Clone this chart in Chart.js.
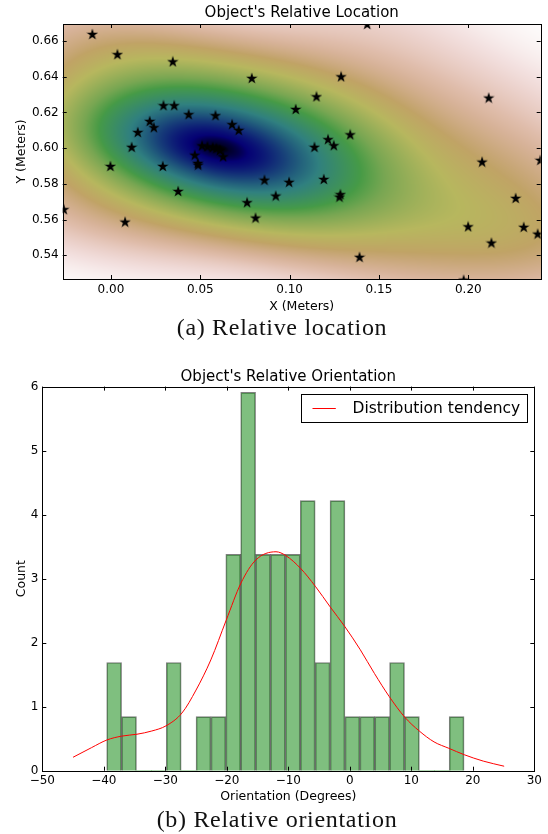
<!DOCTYPE html>
<html>
<head>
<meta charset="utf-8">
<script src="https://cdn.jsdelivr.net/npm/chart.js"></script>
<style>
  html, body { margin: 0; padding: 0; background: #fff; }
  body { width: 548px; height: 834px; position: relative; overflow: hidden; }
  .box { position: absolute; left: 0; width: 548px; }
  .caption { position: absolute; left: 0; text-align: center; font-family: "Liberation Serif", serif;
             font-size: 24px; letter-spacing: 0.7px; color: #111; }
</style>
</head>
<body>
<div class="box" style="top:0;height:315px"><canvas id="loc" width="548" height="315"></canvas></div>
<div class="caption" style="top:314px;width:564px">(a) Relative location</div>
<div class="box" style="top:360px;height:450px"><canvas id="ori" width="548" height="450"></canvas></div>
<div class="caption" style="top:806px;width:554px">(b) Relative orientation</div>

<script>
// relative location samples (meters)
const locX = [-0.0104, 0.0036, 0.0346, 0.0788, 0.0294, 0.0354, 0.0435, 0.0585, 0.0217, 0.0240,
    0.0150, 0.0678, 0.0715, 0.0116, 0.0510, 0.0540, 0.0570, 0.0590, 0.0610, 0.0469,
    0.0628, 0.0486, 0.0488, -0.0003, 0.0290, 0.0376, 0.0859, 0.0997, 0.0922, 0.0762,
    0.0809, 0.0079, -0.0264, 0.1034, 0.1434, 0.1288, 0.1150, 0.2114, 0.1339, 0.1215,
    0.1247, 0.1139, 0.2077, 0.2403, 0.1191, 0.1284, 0.1279, 0.2265, 0.1999, 0.2310,
    0.2388, 0.2129, 0.1391, 0.1974];
const locY = [0.6639, 0.6526, 0.6486, 0.6393, 0.6240, 0.6240, 0.6190, 0.6184, 0.6152, 0.6117,
    0.6090, 0.6134, 0.6102, 0.6007, 0.6015, 0.6010, 0.6005, 0.6000, 0.5990, 0.5963,
    0.5954, 0.5917, 0.5907, 0.5900, 0.5900, 0.5760, 0.5823, 0.5811, 0.5734, 0.5697,
    0.5611, 0.5588, 0.5658, 0.6219, 0.6695, 0.6402, 0.6290, 0.6283, 0.6077, 0.6050,
    0.6016, 0.6007, 0.5924, 0.5934, 0.5827, 0.5742, 0.5728, 0.5721, 0.5562, 0.5559,
    0.5521, 0.5471, 0.5391, 0.5263];
const locXTicks = [0.00, 0.05, 0.10, 0.15, 0.20];
const locYTicks = [0.54, 0.56, 0.58, 0.60, 0.62, 0.64, 0.66];

// orientation histogram (degrees)
const binCenters = [-38.32, -35.90, -33.48, -31.06, -28.63, -26.21, -23.79, -21.37, -18.95, -16.53,
    -14.11, -11.69, -9.26, -6.84, -4.42, -2.00, 0.42, 2.84, 5.26, 7.68,
    10.10, 12.53, 14.95, 17.37];
const binHeights = [1.69, 0.845, 0, 0, 1.69, 0, 0.845, 0.845, 3.38, 5.91,
    3.38, 3.38, 3.38, 4.22, 1.69, 4.22, 0.845, 0.845, 0.845, 1.69,
    0.845, 0, 0, 0.845];
const trendX = [-45.0, -42.0, -39.5, -37.1, -34.6, -32.2, -29.9, -27.3, -25.0, -22.6,
    -20.1, -17.7, -15.3, -12.0, -10.4, -8.0, -5.6, -3.2, -0.8, 1.7,
    4.0, 6.4, 8.9, 11.3, 13.7, 16.1, 18.6, 21.7, 25.1];
const trendY = [0.21, 0.36, 0.48, 0.54, 0.57, 0.62, 0.70, 0.90, 1.26, 1.73,
    2.35, 2.93, 3.29, 3.42, 3.36, 3.16, 2.88, 2.56, 2.25, 1.89,
    1.52, 1.16, 0.84, 0.62, 0.45, 0.35, 0.25, 0.15, 0.07];
const oriXTicks = [-50, -40, -30, -20, -10, 0, 10, 20, 30];
const oriYTicks = [0, 1, 2, 3, 4, 5, 6];

const FONT = "'DejaVu Sans', sans-serif";
const minus = v => String(v).replace('-', '\u2212');
const BW_SCALE = 1.35;   // widen the kernel a bit over scott's rule

// gist_earth colormap segments
const earthR = [[0,0],[0.2824,0.1882],[0.4588,0.2714],[0.5490,0.4719],[0.6980,0.7176],[0.7882,0.7553],[1,0.9922]];
const earthG = [[0,0],[0.0275,0],[0.1098,0.1893],[0.1647,0.3035],[0.2078,0.3841],[0.2824,0.5020],[0.5216,0.6397],
    [0.6980,0.7171],[0.7882,0.6392],[0.8157,0.6549],[0.8667,0.6991],[0.8980,0.7430],[0.9412,0.8275],
    [0.9647,0.8816],[0.9961,0.9733],[1,0.9843]];
const earthB = [[0,0],[0.0039,0.1684],[0.0078,0.2212],[0.0275,0.4329],[0.0314,0.4549],[0.2824,0.5004],
    [0.4667,0.2748],[0.5451,0.3205],[0.7843,0.3961],[0.8941,0.6651],[1,0.9843]];

function seg(stops, t) {
    for (let k = 1; k < stops.length; k++) {
        if (t <= stops[k][0]) {
            const [t0, v0] = stops[k - 1], [t1, v1] = stops[k];
            return v0 + (v1 - v0) * (t - t0) / (t1 - t0);
        }
    }
    return stops[stops.length - 1][1];
}

// gaussian kde of the samples, painted behind the stars
const densityPlugin = {
    id: 'density',
    beforeDatasetsDraw(chart) {
        const {ctx, chartArea: a, scales: {x, y}} = chart;
        const w = Math.round(a.right - a.left), h = Math.round(a.bottom - a.top);
        const n = locX.length;
        const mx = locX.reduce((s, v) => s + v, 0) / n;
        const my = locY.reduce((s, v) => s + v, 0) / n;
        let sxx = 0, syy = 0, sxy = 0;
        for (let i = 0; i < n; i++) {
            sxx += (locX[i] - mx) ** 2;
            syy += (locY[i] - my) ** 2;
            sxy += (locX[i] - mx) * (locY[i] - my);
        }
        const f2 = Math.pow(n, -1 / 3) * BW_SCALE * BW_SCALE;
        const cxx = sxx / (n - 1) * f2, cyy = syy / (n - 1) * f2, cxy = sxy / (n - 1) * f2;
        const det = cxx * cyy - cxy * cxy;
        const ixx = cyy / det, iyy = cxx / det, ixy = -cxy / det;

        const dens = new Float64Array(w * h);
        let lo = Infinity, hi = -Infinity;
        for (let j = 0; j < h; j++) {
            const vy = y.getValueForPixel(a.top + j + 0.5);
            for (let i = 0; i < w; i++) {
                const vx = x.getValueForPixel(a.left + i + 0.5);
                let s = 0;
                for (let k = 0; k < n; k++) {
                    const dx = vx - locX[k], dy = vy - locY[k];
                    s += Math.exp(-0.5 * (dx * dx * ixx + 2 * dx * dy * ixy + dy * dy * iyy));
                }
                dens[j * w + i] = s;
                if (s < lo) lo = s;
                if (s > hi) hi = s;
            }
        }
        const off = document.createElement('canvas');
        off.width = w; off.height = h;
        const octx = off.getContext('2d');
        const img = octx.createImageData(w, h);
        for (let p = 0; p < w * h; p++) {
            const t = 1 - (dens[p] - lo) / (hi - lo);
            img.data[p * 4] = Math.round(255 * seg(earthR, t));
            img.data[p * 4 + 1] = Math.round(255 * seg(earthG, t));
            img.data[p * 4 + 2] = Math.round(255 * seg(earthB, t));
            img.data[p * 4 + 3] = 255;
        }
        octx.putImageData(img, 0, 0);
        ctx.drawImage(off, a.left, a.top, a.right - a.left, a.bottom - a.top);
    }
};

// matplotlib-like frame with inward ticks on all sides
const framePlugin = {
    id: 'frame',
    afterDatasetsDraw(chart) {
        const {ctx, chartArea: a, scales: {x, y}} = chart;
        ctx.save();
        ctx.strokeStyle = '#000';
        ctx.lineWidth = 1;
        ctx.beginPath();
        x.ticks.forEach(t => {
            const px = Math.round(x.getPixelForValue(t.value)) + 0.5;
            ctx.moveTo(px, a.bottom); ctx.lineTo(px, a.bottom - 4);
            ctx.moveTo(px, a.top); ctx.lineTo(px, a.top + 4);
        });
        y.ticks.forEach(t => {
            const py = Math.round(y.getPixelForValue(t.value)) + 0.5;
            ctx.moveTo(a.left, py); ctx.lineTo(a.left + 4, py);
            ctx.moveTo(a.right, py); ctx.lineTo(a.right - 4, py);
        });
        ctx.stroke();
        ctx.strokeRect(Math.round(a.left) + 0.5, Math.round(a.top) + 0.5,
            Math.round(a.right - a.left), Math.round(a.bottom - a.top));
        ctx.restore();
    }
};

function makeStar(size) {
    const c = document.createElement('canvas');
    c.width = c.height = size;
    const g = c.getContext('2d');
    const R = size / 2, r = R * 0.382;
    g.beginPath();
    for (let k = 0; k < 10; k++) {
        const rad = k % 2 ? r : R;
        const ang = -Math.PI / 2 + k * Math.PI / 5;
        g.lineTo(R + rad * Math.cos(ang), R + 0.6 + rad * Math.sin(ang));
    }
    g.closePath();
    g.fillStyle = '#000';
    g.fill();
    return c;
}

const tickFont = {family: FONT, size: 12};
const labelFont = {family: FONT, size: 12.5};
const titleFont = {family: FONT, size: 15, weight: 'normal'};

new Chart(document.getElementById('loc'), {
    type: 'scatter',
    data: {
        datasets: [{
            data: locX.map((v, i) => ({x: v, y: locY[i]})),
            pointStyle: makeStar(12),
            clip: 0,
        }],
    },
    options: {
        responsive: false,
        animation: false,
        layout: {padding: {top: 0, right: 7.3, bottom: 0, left: 0}},
        plugins: {
            legend: {display: false},
            tooltip: {enabled: false},
            title: {
                display: true, text: "Object's Relative Location", fullSize: false,
                color: '#000', font: titleFont, padding: {top: 4.5, bottom: 1.5},
            },
        },
        scales: {
            x: {
                type: 'linear', min: -0.027, max: 0.2405,
                afterBuildTicks: s => { s.ticks = locXTicks.map(v => ({value: v})); },
                afterFit: s => { s.height = 36; },
                grid: {display: false, drawTicks: false}, border: {display: false},
                ticks: {font: tickFont, color: '#000', padding: 4, maxRotation: 0, callback: v => v.toFixed(2)},
                title: {display: true, text: 'X (Meters)', color: '#000', font: labelFont, padding: {top: 0, bottom: 1}},
            },
            y: {
                type: 'linear', min: 0.5267, max: 0.6695,
                afterBuildTicks: s => { s.ticks = locYTicks.map(v => ({value: v})); },
                afterFit: s => { s.width = 62.7; },
                grid: {display: false, drawTicks: false}, border: {display: false},
                ticks: {font: tickFont, color: '#000', padding: 4, callback: v => v.toFixed(2)},
                title: {display: true, text: 'Y (Meters)', color: '#000', font: labelFont, padding: {top: 14.5, bottom: 0}},
            },
        },
    },
    plugins: [densityPlugin, framePlugin],
});

// legend box drawn in the upper right corner of the plot
const trendLegend = {
    id: 'trendLegend',
    afterDraw(chart) {
        const {ctx, chartArea: a} = chart;
        const ds = chart.data.datasets[1];
        ctx.save();
        ctx.font = '15.5px ' + FONT;
        const tw = ctx.measureText(ds.label).width;
        const w = Math.round(51 + tw + 7), h = 28;
        const x0 = Math.round(a.right - 7.6 - w) + 0.5, y0 = Math.round(a.top + 7.6) + 0.5;
        ctx.fillStyle = '#fff';
        ctx.fillRect(x0, y0, w, h);
        ctx.strokeStyle = '#000';
        ctx.lineWidth = 1;
        ctx.strokeRect(x0, y0, w, h);
        ctx.strokeStyle = ds.borderColor;
        ctx.beginPath();
        ctx.moveTo(x0 + 11, y0 + h / 2);
        ctx.lineTo(x0 + 34.3, y0 + h / 2);
        ctx.stroke();
        ctx.fillStyle = '#000';
        ctx.textBaseline = 'middle';
        ctx.fillText(ds.label, x0 + 51, y0 + h / 2 + 0.5);
        ctx.restore();
    }
};

new Chart(document.getElementById('ori'), {
    type: 'bar',
    data: {
        datasets: [{
            type: 'bar',
            label: 'Histogram',
            data: binCenters.map((v, i) => ({x: v, y: binHeights[i]})),
            backgroundColor: 'rgba(0,128,0,0.5)',
            borderColor: 'rgba(0,0,0,0.5)',
            borderWidth: c => (c.raw && c.raw.y > 0 ? 1 : 0),
            barPercentage: 1,
            categoryPercentage: 1,
            order: 2,
        }, {
            type: 'line',
            label: 'Distribution tendency',
            data: trendX.map((v, i) => ({x: v, y: trendY[i]})),
            borderColor: '#ff0000',
            backgroundColor: '#ff0000',
            borderWidth: 1,
            pointRadius: 0,
            cubicInterpolationMode: 'monotone',
            order: 1,
        }],
    },
    options: {
        responsive: false,
        animation: false,
        layout: {padding: {top: 0, right: 13.7, bottom: 0, left: 0}},
        plugins: {
            tooltip: {enabled: false},
            legend: {display: false},
            title: {
                display: true, text: "Object's Relative Orientation", fullSize: false,
                color: '#000', font: titleFont, padding: {top: 8, bottom: 0.6},
            },
        },
        scales: {
            x: {
                type: 'linear', min: -50, max: 30, offset: false,
                afterBuildTicks: s => { s.ticks = oriXTicks.map(v => ({value: v})); },
                afterFit: s => { s.height = 39.3; },
                grid: {display: false, drawTicks: false}, border: {display: false},
                ticks: {font: tickFont, color: '#000', padding: 3, maxRotation: 0, callback: v => minus(v)},
                title: {display: true, text: 'Orientation (Degrees)', color: '#000', font: labelFont, padding: {top: 0, bottom: 5.8}},
            },
            y: {
                type: 'linear', min: 0, max: 6,
                afterBuildTicks: s => { s.ticks = oriYTicks.map(v => ({value: v})); },
                afterFit: s => { s.width = 42.3; },
                grid: {display: false, drawTicks: false}, border: {display: false},
                ticks: {font: tickFont, color: '#000', padding: 4},
                title: {display: true, text: 'Count', color: '#000', font: labelFont, padding: {top: 14.5, bottom: 0}},
            },
        },
    },
    plugins: [framePlugin, trendLegend],
});
</script>
</body>
</html>
